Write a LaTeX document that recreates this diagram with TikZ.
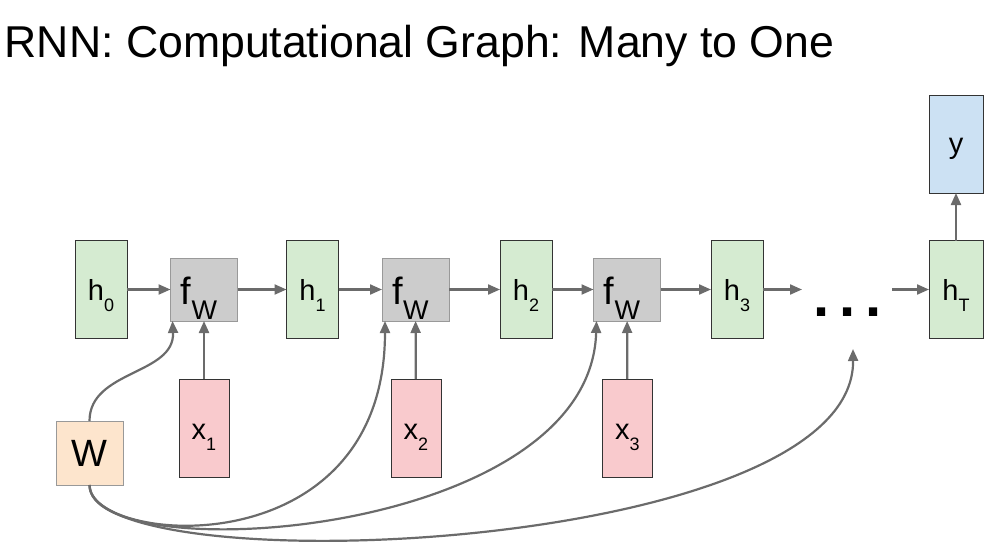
\documentclass[tikz,border=0pt]{standalone}
\usepackage{fontspec}
\setmainfont{Liberation Sans}
\newfontfamily\boldfam{Liberation Sans Bold}
\usetikzlibrary{arrows.meta,calc}
\definecolor{hgreen}{HTML}{D5EBD1}
\definecolor{xpink}{HTML}{F9CACD}
\definecolor{yblue}{HTML}{CCE1F3}
\definecolor{worange}{HTML}{FDE5CD}
\definecolor{fgray}{HTML}{CCCCCC}
\definecolor{arrowgray}{HTML}{6B6B6B}
\definecolor{darkedge}{HTML}{333333}
\definecolor{lightedge}{HTML}{999999}
% label with subscript: #1 main, #2 sub, #3 main size, #4 sub size, #5 sub drop, #6 baseline drop, #7 right kern
\newcommand{\sublab}[7]{\raisebox{-#6pt}[0pt][0pt]{\fontsize{#3}{#3}\selectfont #1\raisebox{-#5pt}{\fontsize{#4}{#4}\selectfont #2}\kern#7pt}}
\begin{document}
\begin{tikzpicture}[x=1pt,y=-1pt,
  box/.style={draw, line width=1pt, inner sep=0pt, outer sep=0pt, anchor=center},
  hbox/.style={box, fill=hgreen, draw=darkedge, minimum width=52pt, minimum height=98pt},
  xbox/.style={box, fill=xpink, draw=darkedge, minimum width=50pt, minimum height=98pt},
  ybox/.style={box, fill=yblue, draw=darkedge, minimum width=54pt, minimum height=98pt},
  fbox/.style={box, fill=fgray, draw=lightedge, minimum width=67pt, minimum height=63pt},
  wbox/.style={box, fill=worange, draw=lightedge, minimum width=67pt, minimum height=64pt},
  conn/.style={draw=arrowgray, line width=2.2pt, -{Triangle[length=12pt,width=10pt]}}
]
\useasboundingbox (0,0) rectangle (997,549);

\node[anchor=base west, inner sep=0pt] (title) at (4.5,57) {\fontsize{44.6}{44.6}\selectfont RNN: Computational Graph: Many to One};

% hidden states
\node[hbox] (h0) at (101,289.5) {\sublab{h}{0}{29}{18}{11}{11}{0}};
\node[fbox] (f1) at (204,289.5) {\sublab{f}{W}{38}{27}{15}{14.5}{10}};
\node[hbox] (h1) at (312.5,289.5) {\sublab{h}{1}{29}{18}{11}{11}{0}};
\node[fbox] (f2) at (415.5,289.5) {\sublab{f}{W}{38}{27}{15}{14.5}{10}};
\node[hbox] (h2) at (526,289.5) {\sublab{h}{2}{29}{18}{11}{11}{0}};
\node[fbox] (f3) at (627,289.5) {\sublab{f}{W}{38}{27}{15}{14.5}{10}};
\node[hbox] (h3) at (737,289.5) {\sublab{h}{3}{29}{18}{11}{11}{0}};
\node[ybox, fill=hgreen] (hT) at (956,289.5) {\sublab{h}{T}{29}{18}{11}{11}{0}};
\node[ybox] (y) at (956,144) {\raisebox{-9.5pt}[0pt][0pt]{\fontsize{29}{29}\selectfont y}};

% inputs
\node[xbox] (x1) at (204,428) {\sublab{x}{1}{29}{18}{11}{11}{0}};
\node[xbox] (x2) at (416,428) {\sublab{x}{2}{29}{18}{11}{11}{0}};
\node[xbox] (x3) at (627.5,428) {\sublab{x}{3}{29}{18}{11}{11}{0}};

% weights
\node[wbox] (W) at (89.5,453) {\fontsize{38}{38}\selectfont W};

% dots
\node[anchor=base west, inner sep=0pt] (dots) at (813,316.5) {\boldfam\fontsize{58}{58}\selectfont .\kern10pt.\kern10pt.};
\coordinate (dl) at (802,289.5);
\coordinate (dr) at (892,289.5);
\coordinate (dt) at (853,349);

% horizontal chain
\draw[conn] (h0) -- (f1);
\draw[conn] (f1) -- (h1);
\draw[conn] (h1) -- (f2);
\draw[conn] (f2) -- (h2);
\draw[conn] (h2) -- (f3);
\draw[conn] (f3) -- (h3);
\draw[conn] (h3.east) -- (dl);
\draw[conn] (dr) -- (hT.west);
\draw[conn] (hT) -- (y);

% inputs
\draw[conn] (x1) -- (f1);
\draw[conn] (x2) -- (f2);
\draw[conn] (x3) -- (f3);

% weight sharing
\draw[conn] (W.north) .. controls (89.5,370) and (175,375) .. ([xshift=2pt]f1.south west);
\draw[conn] (W.south) .. controls (89.5,545) and (385,570) .. ([xshift=3pt]f2.south west);
\draw[conn] (W.south) .. controls (89.5,570) and (590,540) .. ([xshift=3pt]f3.south west);
\draw[conn] (W.south) .. controls (89.5,585) and (855,555) .. (dt);
\end{tikzpicture}
\end{document}
